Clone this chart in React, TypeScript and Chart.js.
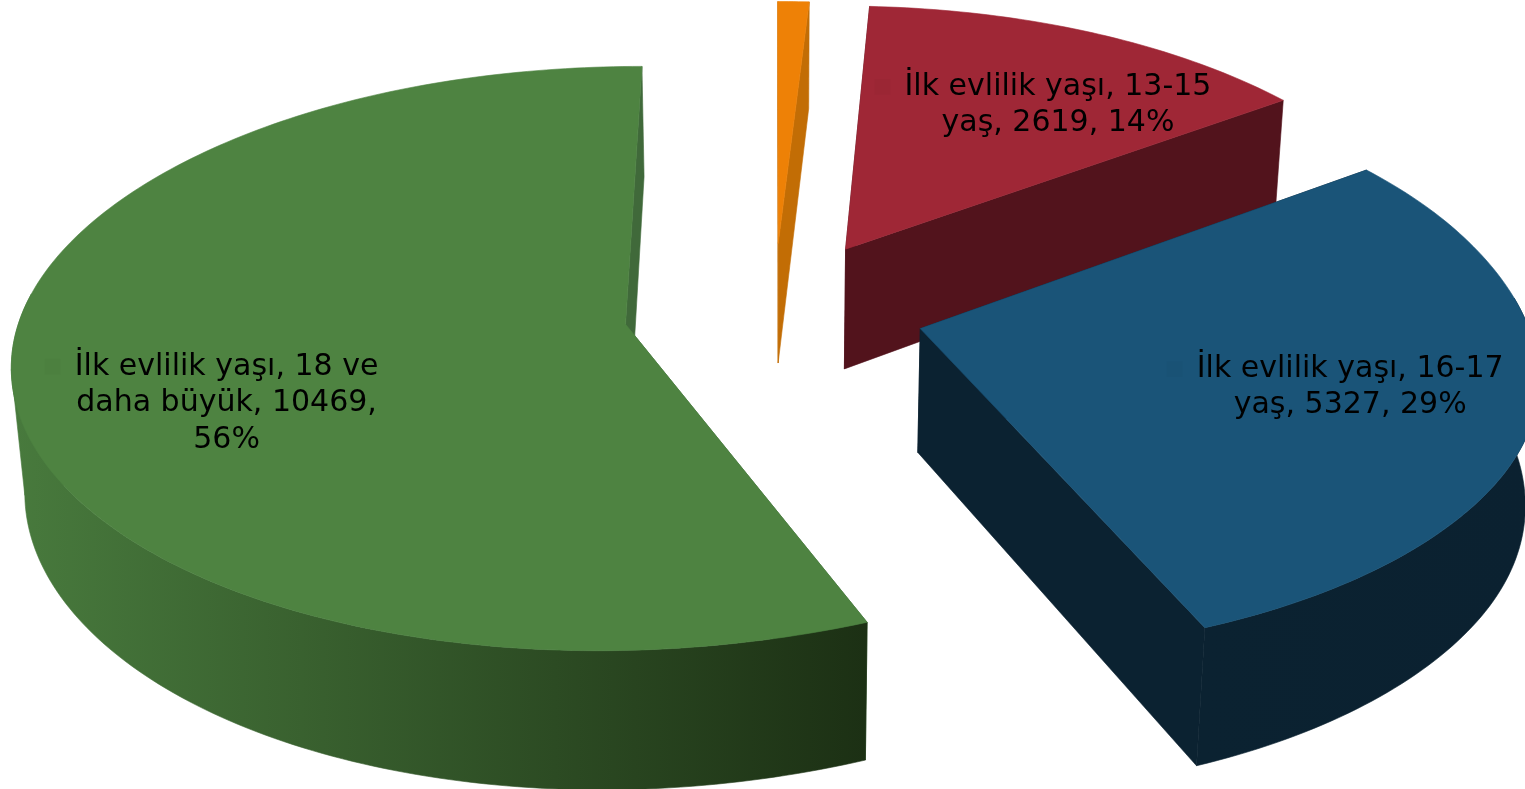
import React, { useEffect, useRef } from "react";
import { Chart, registerables } from "chart.js";

Chart.register(...registerables);

const categories = [
  "İlk evlilik yaşı, 13 altı",
  "İlk evlilik yaşı, 13-15 yaş",
  "İlk evlilik yaşı, 16-17 yaş",
  "İlk evlilik yaşı, 18 ve daha büyük",
];
const values = [175, 2619, 5327, 10469];
const labelLines: string[][] = [
  [],
  ["İlk evlilik yaşı, 13-15", "yaş, 2619, 14%"],
  ["İlk evlilik yaşı, 16-17", "yaş, 5327, 29%"],
  ["İlk evlilik yaşı, 18 ve", "daha büyük, 10469,", "56%"],
];
const explode = [24, 25, 24, 25.3];
const sliceNudgeX = [-4, -4, 0, 0];
const topColors = ["#ee8106", "#9f2736", "#1a5478", "#4e8341"];
const sideColors = [
  ["#c26d05", "#c26d05"],
  ["#55141c", "#50131b"],
  ["#0b2231", "#0b2130"],
  ["#487a3d", "#1c3014"],
];
const radialColors = ["#c26d05", "#52131c", "#0b2231", "#40693a"];
const drawOrder = [0, 1, 3, 2];
const labelAngleShift = [0, 5.1, -0.1, -10.95];
const labelRadius = [0, 0.694, 0.708, 0.678];

// Projection of the pie plane, in units of the pie radius
const P = { X0: 778, Y0: 310, A: 611, B: -7, kx: 0.12, c: 284.8, k: 0.1166, c2: 290, H: 125, q: 0.0175 };
const smooth = (x: number, a: number, b: number) => {
  const t = Math.min(1, Math.max(0, (x - a) / (b - a)));
  return t * t * (3 - 2 * t);
};
const px = (u0: number, v: number, q: number) => {
  // the reference's rim is a little narrower than a true ellipse at its far left and back right
  const u =
    u0 - 0.018 * smooth(u0, 0.2, 1.1) * smooth(-v, -0.6, 0.3) + 0.012 * smooth(-u0, 0.5, 1.25);
  const bump = P.B * Math.pow(Math.max(v, 0), 3) * Math.exp(-((u / 0.45) ** 2));
  return P.X0 + (P.A * u + bump) / (1 - P.kx * v + q);
};
const top = (u: number, v: number): [number, number] => [
  px(u, v, 0),
  P.Y0 + (P.c * v) / (1 - P.k * v),
];
const bottom = (u: number, v: number): [number, number] => [
  px(u, v, P.q),
  P.Y0 + (P.c2 * v + P.H) / (1 - P.k * v + P.q),
];

const poly = (ctx: CanvasRenderingContext2D, pts: [number, number][], fill: any) => {
  ctx.beginPath();
  pts.forEach((p, i) => (i ? ctx.lineTo(p[0], p[1]) : ctx.moveTo(p[0], p[1])));
  ctx.closePath();
  ctx.fillStyle = fill;
  ctx.strokeStyle = fill;
  ctx.lineWidth = 0.6;
  ctx.fill();
  ctx.stroke();
};
const leftmost = (pts: [number, number][]) => pts.reduce((m, p) => (p[0] < m[0] ? p : m), pts[0]);

const pie3d = {
  id: "pie3d",
  beforeDatasetsDraw(chart: any) {
    const ctx: CanvasRenderingContext2D = chart.ctx;
    const arcs = chart.getDatasetMeta(0).data;
    const geom = (i: number) => {
      const el = arcs[i];
      const { startAngle, endAngle } = el.getProps(["startAngle", "endAngle"], true);
      const mid = (startAngle + endAngle) / 2;
      const e = el.options.offset / 100;
      return { startAngle, endAngle, ax: Math.cos(mid) * e, ay: Math.sin(mid) * e };
    };
    ctx.save();
    drawOrder.forEach((i) => {
      const { startAngle, endAngle, ax, ay } = geom(i);
      const steps = Math.max(6, Math.ceil(((endAngle - startAngle) * 180) / Math.PI));
      const rim: [number, number][] = [];
      const front: [number, number][] = [];
      for (let s = 0; s <= steps; s++) {
        const a = startAngle + ((endAngle - startAngle) * s) / steps;
        const pt: [number, number] = [ax + Math.cos(a), ay + Math.sin(a)];
        rim.push(pt);
        if (Math.sin(a) >= -0.12) front.push(pt);
      }
      const topRim = rim.map(([u, v]) => top(u, v));
      const botRim = rim.map(([u, v]) => bottom(u, v));
      const a0 = top(ax, ay);
      const b0 = bottom(ax, ay);
      ctx.save();
      ctx.translate(sliceNudgeX[i], 0);
      // radial faces
      poly(ctx, [a0, topRim[0], botRim[0], b0], radialColors[i]);
      poly(ctx, [a0, topRim[steps], botRim[steps], b0], radialColors[i]);
      // outer wall: only the part that faces the viewer (the two back slices have none)
      if (i >= 2 && front.length > 1) {
        const tf = front.map(([u, v]) => top(u, v));
        const bf = front.map(([u, v]) => bottom(u, v));
        const xs = [...tf, ...bf].map((p) => p[0]);
        const g = ctx.createLinearGradient(Math.min(...xs), 0, Math.max(...xs), 0);
        g.addColorStop(0, sideColors[i][0]);
        g.addColorStop(1, sideColors[i][1]);
        if (i === 3) {
          // fill up to the tangent between the top and bottom rims on the far left
          const tl = leftmost(tf);
          const bl = leftmost(bf);
          poly(ctx, [tl, bl, [bl[0] + 40, bl[1]], [tl[0] + 40, tl[1]]], g);
        }
        poly(ctx, [...tf, ...bf.slice().reverse()], g);
      }
      // top face
      poly(ctx, [a0, ...topRim], topColors[i]);
      ctx.restore();
    });
    // data labels
    ctx.textAlign = "center";
    ctx.textBaseline = "middle";
    ctx.font = '30px "DejaVu Sans"';
    labelLines.forEach((lines, i) => {
      if (!lines.length) return;
      const { startAngle, endAngle, ax, ay } = geom(i);
      const a = (startAngle + endAngle) / 2 + (labelAngleShift[i] * Math.PI) / 180;
      const [x, yy] = top(ax + Math.cos(a) * labelRadius[i], ay + Math.sin(a) * labelRadius[i]);
      const y = yy + 2.5;
      const lh = 36.5;
      lines.forEach((line, n) => {
        ctx.fillStyle = "#000";
        ctx.fillText(line, x, y + (n - (lines.length - 1) / 2) * lh);
      });
      const w = ctx.measureText(lines[0]).width;
      ctx.fillStyle = "rgba(0,0,0,0.02)";
      ctx.fillRect(x - w / 2 - 30, y - ((lines.length - 1) / 2) * lh - 8, 16, 16);
    });
    ctx.restore();
    return false;
  },
};

export default function App() {
  const ref = useRef<HTMLCanvasElement>(null);
  useEffect(() => {
    const chart = new Chart(ref.current!, {
      type: "pie",
      data: {
        labels: categories,
        datasets: [{ data: values, backgroundColor: topColors, offset: explode, borderWidth: 0 }],
      },
      options: {
        responsive: false,
        animation: false,
        plugins: { legend: { display: false }, tooltip: { enabled: false } },
      },
      plugins: [pie3d],
    } as any);
    return () => chart.destroy();
  }, []);
  return (
    <div style={{ position: "fixed", left: 0, top: 0, width: 1525, height: 789, background: "#fff" }}>
      <canvas ref={ref} width={1525} height={789} style={{ display: "block" }} />
    </div>
  );
}
